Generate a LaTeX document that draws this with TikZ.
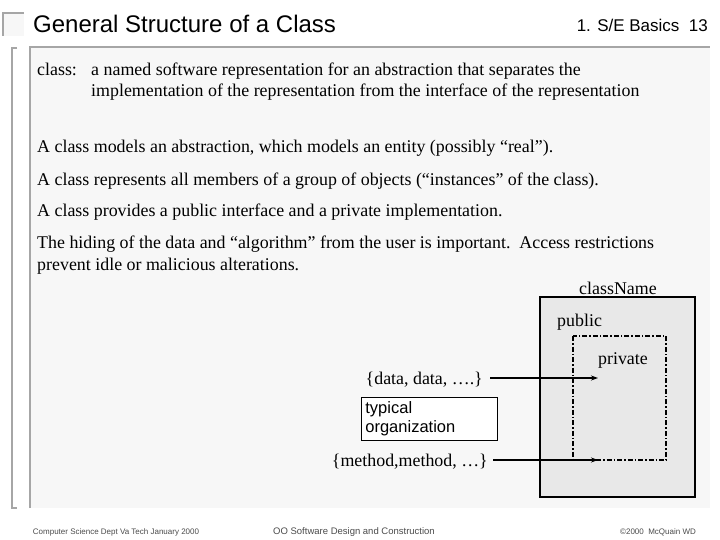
\documentclass[tikz,border=0pt]{standalone}
\usepackage{fontspec}
\setmainfont{Liberation Serif}
\newfontfamily\sans{Liberation Sans}
\usetikzlibrary{arrows.meta}
\begin{document}
\begin{tikzpicture}[x=1pt,y=-1pt,
  body/.style={anchor=base west,inner sep=0pt,font=\fontsize{17.9}{21}\selectfont},
  arr/.style={-{Stealth[length=7pt,width=5pt]},line width=1.3pt},
  foot/.style={anchor=base,inner sep=0pt,font=\sans\fontsize{8}{9}\selectfont,text=black!70}]
\useasboundingbox (0,0) rectangle (720,540);
\fill[white] (0,0) rectangle (720,540);
% decorations
\fill[black!3] (3,13) rectangle (24,36);
\draw[black!35,line width=1.2pt] (3,36) -- (3,13) -- (24,13);
\draw[black!35,line width=1.2pt] (17,48) -- (12,48) -- (12,508) -- (17,508);
\fill[black!3] (30,47) rectangle (710,508);
\draw[black!35,line width=1.5pt] (30,508) -- (30,47) -- (710,47);
% title
\node[anchor=base west,inner sep=0pt,font=\sans\fontsize{24}{28}\selectfont] (title) at (33,33) {General Structure of a Class};
\node[anchor=base east,inner sep=0pt,font=\sans\fontsize{17}{20}\selectfont] (pg) at (708,32) {1. S/E Basics\ \ 13};
% body
\node[body] (t1) at (37,76) {class:};
\node[body] (t1b) at (91,76) {a named software representation for an abstraction that separates the};
\node[body] (t1c) at (91,97) {implementation of the representation from the interface of the representation};
\node[body] (t2) at (37,153) {A class models an abstraction, which models an entity (possibly “real”).};
\node[body] (t3) at (37,186) {A class represents all members of a group of objects (“instances” of the class).};
\node[body] (t4) at (37,217) {A class provides a public interface and a private implementation.};
\node[body] (t5) at (37,248) {The hiding of the data and “algorithm” from the user is important.\ \ Access restrictions};
\node[body] (t6) at (37,270) {prevent idle or malicious alterations.};
% class box
\draw[fill=black!9,line width=1.5pt] (540,297) rectangle (695,497);
\node[body,anchor=base] (cn) at (618,294) {className};
\node[body] (pub) at (557,326) {public};
\draw[line width=1.3pt,dash pattern=on 5pt off 2pt on 1.5pt off 2pt] (573,336) rectangle (666,460);
\node[body,anchor=base] (priv) at (623,364) {private};
\coordinate (d1) at (598,378);
\coordinate (m1) at (598,460);
\node[body,anchor=base east] (data) at (483,384) {\{data, data, ….\}};
\node[body,anchor=base east] (meth) at (488,466) {\{method,method, …\}};
\draw[arr] (data.east |- d1) ++(7,0) -- (d1);
\draw[arr] (meth.east |- m1) ++(5,0) -- (m1);
\node[draw,line width=0.8pt,fill=white,minimum width=136pt,minimum height=43pt,anchor=north west,align=left,text width=128pt,inner sep=4pt,font=\sans\fontsize{16.5}{19}\selectfont] (typ) at (361,397) {typical\\organization};
% footer
\node[foot] (f1) at (116,534) {Computer Science Dept Va Tech January 2000};
\node[foot,font=\sans\fontsize{9.5}{10}\selectfont] (f2) at (354,534) {OO Software Design and Construction};
\node[foot] (f3) at (658,534) {©2000\ \ McQuain WD};
\end{tikzpicture}
\end{document}
